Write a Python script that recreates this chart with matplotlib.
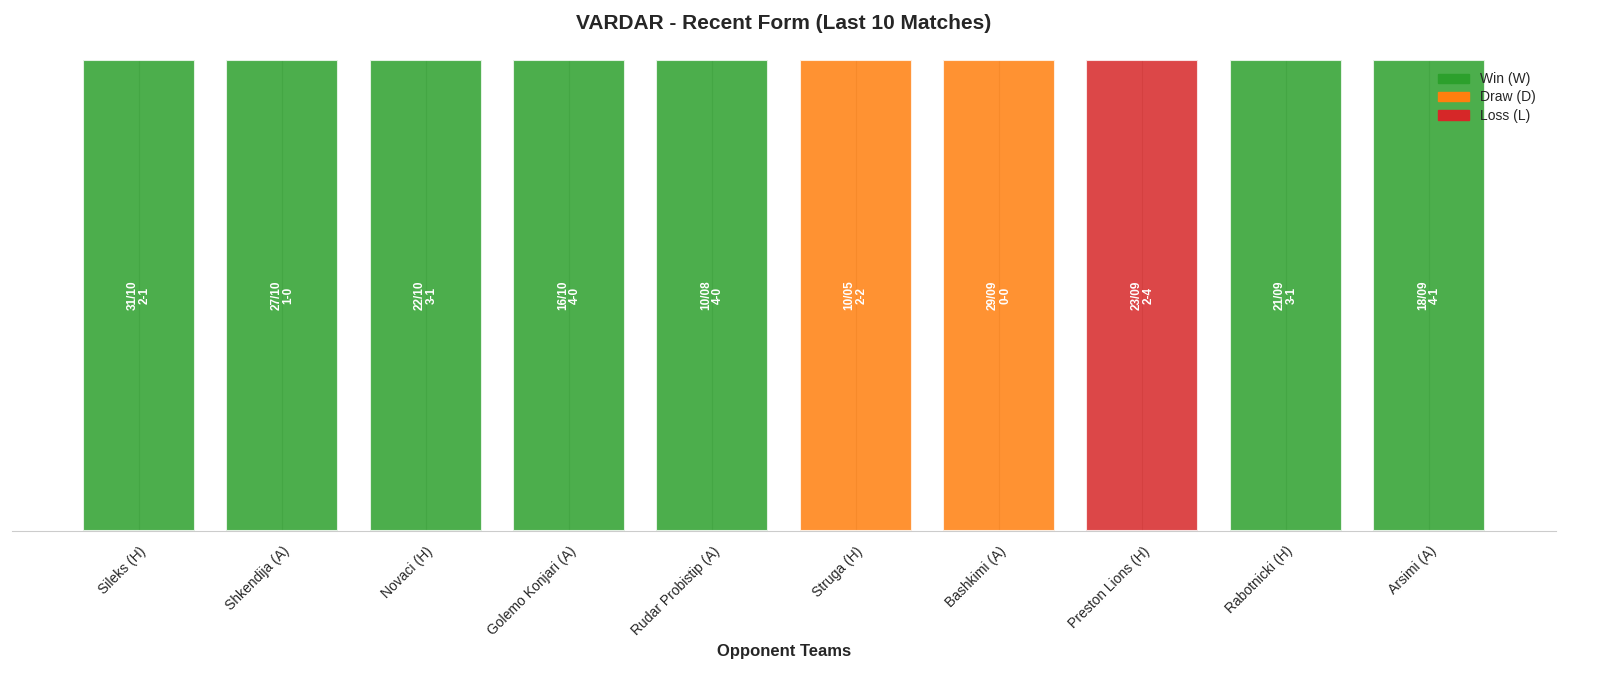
import matplotlib
matplotlib.use("Agg")
import matplotlib.pyplot as plt
import seaborn as sns
from matplotlib.patches import Patch

sns.set_style("whitegrid")
plt.rcParams['font.family'] = ['Arial', 'Liberation Sans', 'DejaVu Sans']

opponents = ["Sileks (H)", "Shkendija (A)", "Novaci (H)", "Golemo Konjari (A)", "Rudar Probistip (A)",
             "Struga (H)", "Bashkimi (A)", "Preston Lions (H)", "Rabotnicki (H)", "Arsimi (A)"]
dates = ["31/10", "27/10", "22/10", "16/10", "10/08", "10/05", "29/09", "23/09", "21/09", "18/09"]
scores = ["2-1", "1-0", "3-1", "4-0", "4-0", "2-2", "0-0", "2-4", "3-1", "4-1"]
results = ["W", "W", "W", "W", "W", "D", "D", "L", "W", "W"]
colors = {"W": "#2ca02c", "D": "#ff7f0e", "L": "#d62728"}

fig, ax = plt.subplots(figsize=(16, 6.79), dpi=100)
x = range(len(opponents))
ax.bar(x, [1] * len(opponents), color=[colors[r] for r in results], alpha=0.85,
       edgecolor="white", linewidth=1.5, width=0.78)
for i in x:
    ax.text(i, 0.5, f"{dates[i]}\n{scores[i]}", rotation=90, ha="center", va="center",
            color="white", fontweight="bold", fontsize=8.5, linespacing=1.0)
ax.set_xticks(list(x))
ax.set_xticklabels(opponents, rotation=45, ha="right", rotation_mode="anchor", fontsize=10)
ax.tick_params(axis="x", pad=6)
ax.set_yticks([])
ax.set_ylim(0, 1.0)
ax.set_xlim(-0.886, 9.886)
ax.grid(axis="y", visible=False)
for s in ["top", "right", "left"]:
    ax.spines[s].set_visible(False)
ax.spines["bottom"].set_color("#cccccc")
ax.set_xlabel("Opponent Teams", fontsize=12, fontweight="bold")
ax.set_title("VARDAR - Recent Form (Last 10 Matches)", fontsize=15, fontweight="bold", pad=22)
handles = [Patch(color=colors["W"], label="Win (W)"), Patch(color=colors["D"], label="Draw (D)"),
           Patch(color=colors["L"], label="Loss (L)")]
ax.legend(handles=handles, loc="upper right", frameon=False, fontsize=10,
          bbox_to_anchor=(0.995, 1.0), handlelength=2.2, labelspacing=0.3)
fig.subplots_adjust(left=0.0075, right=0.9725, top=0.912, bottom=0.218)
fig.savefig("out.png", dpi=100)
